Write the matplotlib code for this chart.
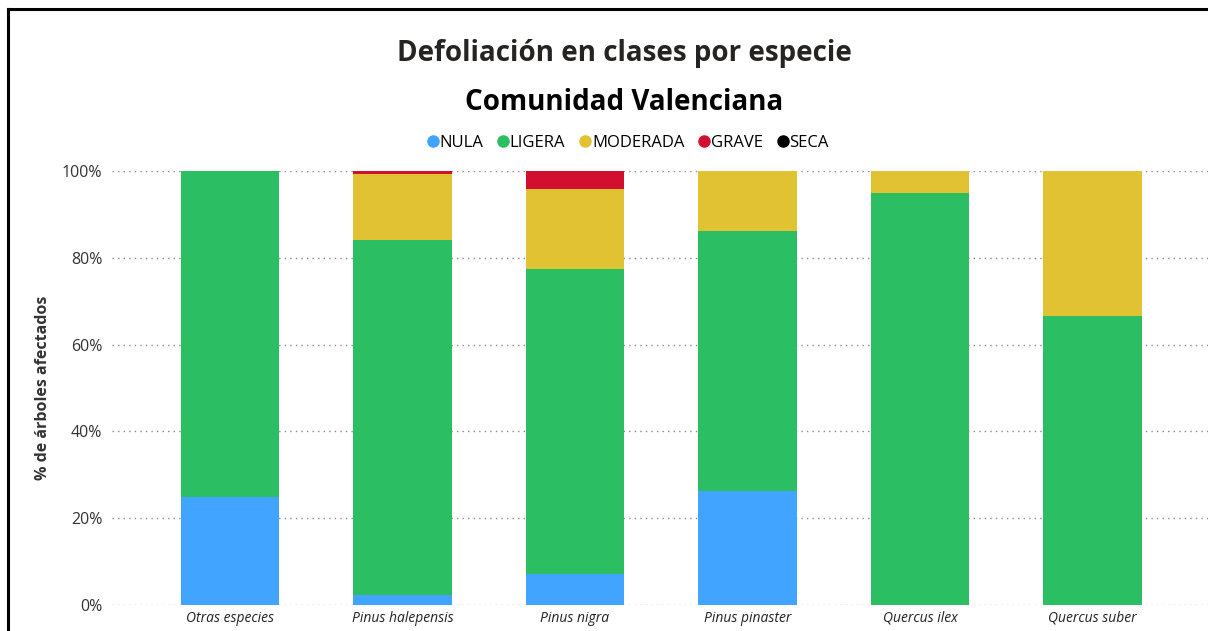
import matplotlib.pyplot as plt
import numpy as np
from matplotlib.lines import Line2D

plt.rcParams['font.family'] = ['Open Sans', 'DejaVu Sans']

especies = ['Otras especies', 'Pinus halepensis', 'Pinus nigra',
            'Pinus pinaster', 'Quercus ilex', 'Quercus suber']
clases = ['NULA', 'LIGERA', 'MODERADA', 'GRAVE', 'SECA']
colores = ['#41a4ff', '#2bbe63', '#e0c233', '#d20f2f', '#000000']

nula = [25.0, 2.3, 7.1, 26.3, 0.0, 0.0]
ligera = [75.0, 81.8, 70.3, 59.9, 94.9, 66.7]
moderada = [0.0, 15.3, 18.5, 13.8, 5.1, 33.3]
grave = [0.0, 0.6, 4.1, 0.0, 0.0, 0.0]
seca = [0.0, 0.0, 0.0, 0.0, 0.0, 0.0]

series = [nula, ligera, moderada, grave, seca]

fig = plt.figure(figsize=(12.08, 6.31), dpi=100)
ax = fig.add_axes([112/1208, 26/631, 1096/1208, 434/631])

x = np.arange(len(especies))
bottom = np.zeros(len(especies))
for vals, c in zip(series, colores):
    vals = np.array(vals)
    ax.bar(x, vals, 0.57, bottom=bottom, color=c, zorder=3)
    bottom += vals

ax.set_xlim(-0.684, 5.67)
ax.set_ylim(0, 100)
ax.set_yticks([0, 20, 40, 60, 80, 100])
ax.set_yticklabels(['0%', '20%', '40%', '60%', '80%', '100%'],
                   fontsize=11.5, color='#333333')
ax.set_xticks(x)
ax.set_xticklabels(especies, fontsize=10, style='italic', color='#222222')
ax.tick_params(length=0)
ax.tick_params(axis='y', pad=7)
ax.tick_params(axis='x', pad=4)
ax.grid(axis='y', color='#888888', linestyle=(0, (1, 3)), linewidth=1)
for s in ax.spines.values():
    s.set_visible(False)
ax.set_ylabel('% de árboles afectados', fontsize=11.5, fontweight='bold',
              color='#333333', labelpad=8)

fig.text(0.517, 1 - 54/631, 'Defoliación en clases por especie',
         ha='center', va='center', fontsize=20, fontweight='bold', color='#252423')
fig.text(0.517, 1 - 103/631, 'Comunidad Valenciana',
         ha='center', va='center', fontsize=20, fontweight='bold', color='#000000')

handles = [Line2D([], [], marker='o', linestyle='', color=c, markersize=8)
           for c in colores]
fig.legend(handles, clases, loc='center', bbox_to_anchor=(0.518, 1 - 143/631),
           ncol=5, frameon=False, fontsize=12, handletextpad=-0.2,
           columnspacing=0.6, handlelength=1.2)

# marco
fig.add_artist(Line2D([8/1208, 1], [1 - 9/631, 1 - 9/631], color='black', lw=2.2))
fig.add_artist(Line2D([8/1208, 8/1208], [0, 1 - 9/631], color='black', lw=2.2))

plt.savefig('out.png', dpi=100)
